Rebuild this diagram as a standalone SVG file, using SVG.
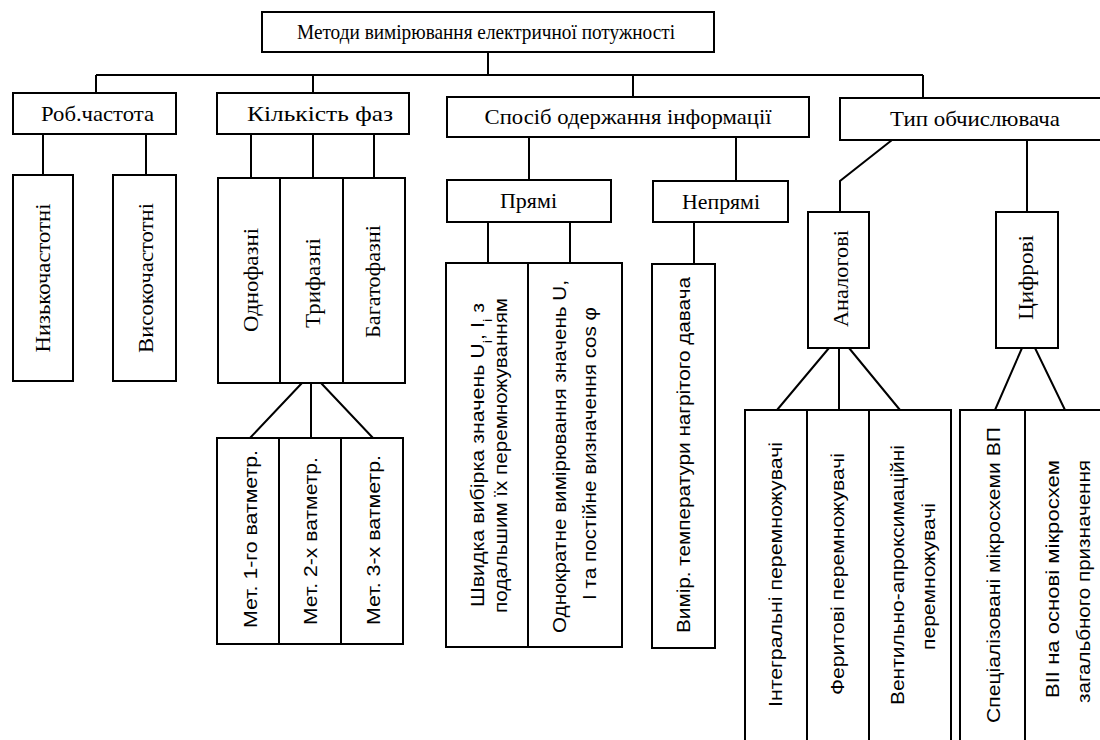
<svg xmlns="http://www.w3.org/2000/svg" width="1100" height="740" viewBox="0 0 1100 740">
<style>
.bx{fill:#fff;stroke:#000;stroke-width:2}
.ln{fill:none;stroke:#000;stroke-width:2}
.s{font-family:"Liberation Serif","Times New Roman",serif;font-size:21px;fill:#000;text-anchor:middle}
.v{font-family:"Liberation Serif","Times New Roman",serif;font-size:22px;fill:#000;text-anchor:middle}
.a{font-family:"Liberation Sans",Arial,sans-serif;font-size:19px;fill:#000;text-anchor:middle}
</style>
<rect width="1100" height="740" fill="#fff"/>
<g id="connectors">
<path class="ln" d="M488 52V75M96 75H923M96 75V93M313 75V93M633 75V97M923 75V98"/>
<path class="ln" d="M43 134V175M146 134V175M251 134V178M313 134V178M374 134V178"/>
<path class="ln" d="M302 383L250 438M311 383V438M321 383L373 438"/>
<path class="ln" d="M529 137V180M736 137V181M488 222V263M570 222V263M694 222V264"/>
<path class="ln" d="M892 140L840 181V212M1027 140V212"/>
<path class="ln" d="M829 348L777 410M839 348V410M849 348L900 410M1022 348L995 410M1035 348L1065 410"/>
</g>
<g id="n-root"><rect class="bx" x="262" y="12" width="452" height="40"/><text class="s" x="486" y="32" dy="0.35em" textLength="378" lengthAdjust="spacingAndGlyphs">Методи вимірювання електричної потужності</text></g>
<g id="n-freq"><rect class="bx" x="13" y="93" width="163" height="41"/><text class="s" x="97.5" y="113.5" dy="0.35em" textLength="113" lengthAdjust="spacingAndGlyphs">Роб.частота</text></g>
<g id="n-phases"><rect class="bx" x="217" y="93" width="192" height="41"/><text class="s" x="320" y="113.5" dy="0.35em" textLength="146" lengthAdjust="spacingAndGlyphs">Кількість фаз</text></g>
<g id="n-info"><rect class="bx" x="447" y="97" width="362" height="40"/><text class="s" x="628" y="117" dy="0.35em" textLength="287" lengthAdjust="spacingAndGlyphs">Спосіб одержання інформації</text></g>
<g id="n-type"><rect class="bx" x="840" y="98" width="275" height="42"/><text class="s" x="975" y="119" dy="0.35em" textLength="170" lengthAdjust="spacingAndGlyphs">Тип обчислювача</text></g>
<g id="n-low"><rect class="bx" x="13" y="175" width="60" height="206"/><text class="v" transform="translate(42,278) rotate(-90)" dy="0.35em" textLength="149" lengthAdjust="spacingAndGlyphs">Низькочастотні</text></g>
<g id="n-high"><rect class="bx" x="113" y="175" width="63" height="206"/><text class="v" transform="translate(145,278) rotate(-90)" dy="0.35em" textLength="150" lengthAdjust="spacingAndGlyphs">Високочастотні</text></g>
<g id="n-one"><rect class="bx" x="218" y="178" width="62" height="205"/><text class="v" transform="translate(250,280) rotate(-90)" dy="0.35em" textLength="104" lengthAdjust="spacingAndGlyphs">Однофазні</text></g>
<g id="n-three"><rect class="bx" x="280" y="178" width="63" height="205"/><text class="v" transform="translate(312,283) rotate(-90)" dy="0.35em" textLength="90" lengthAdjust="spacingAndGlyphs">Трифазні</text></g>
<g id="n-multi"><rect class="bx" x="343" y="178" width="62" height="205"/><text class="v" transform="translate(372,281.5) rotate(-90)" dy="0.35em" textLength="113" lengthAdjust="spacingAndGlyphs">Багатофазні</text></g>
<g id="n-m1"><rect class="bx" x="217" y="438" width="62" height="206"/><text class="a" transform="translate(250,539) rotate(-90)" dy="0.35em" textLength="178" lengthAdjust="spacingAndGlyphs">Мет. 1-го ватметр.</text></g>
<g id="n-m2"><rect class="bx" x="279" y="438" width="62" height="206"/><text class="a" transform="translate(310,541) rotate(-90)" dy="0.35em" textLength="168" lengthAdjust="spacingAndGlyphs">Мет. 2-х ватметр.</text></g>
<g id="n-m3"><rect class="bx" x="341" y="438" width="62" height="206"/><text class="a" transform="translate(373,540) rotate(-90)" dy="0.35em" textLength="170" lengthAdjust="spacingAndGlyphs">Мет. 3-х ватметр.</text></g>
<g id="n-direct"><rect class="bx" x="447" y="180" width="164" height="42"/><text class="s" x="528.5" y="201" dy="0.35em" textLength="57" lengthAdjust="spacingAndGlyphs">Прямі</text></g>
<g id="n-indirect"><rect class="bx" x="653" y="181" width="135" height="41"/><text class="s" x="721" y="201.5" dy="0.35em" textLength="78" lengthAdjust="spacingAndGlyphs">Непрямі</text></g>
<g id="n-fast"><rect class="bx" x="446" y="263" width="82" height="384"/>
<text class="a" transform="translate(477,455) rotate(-90)" dy="0.35em" textLength="304" lengthAdjust="spacingAndGlyphs">Швидка вибірка значень U<tspan font-size="13" baseline-shift="sub">i</tspan>, I<tspan font-size="13" baseline-shift="sub">i</tspan> з</text>
<text class="a" transform="translate(500,455.5) rotate(-90)" dy="0.35em" textLength="315" lengthAdjust="spacingAndGlyphs">подальшим їх перемножуванням</text></g>
<g id="n-single"><rect class="bx" x="528" y="263" width="94" height="384"/>
<text class="a" transform="translate(559,456.5) rotate(-90)" dy="0.35em" textLength="353" lengthAdjust="spacingAndGlyphs">Однократне вимірювання значень U,</text>
<text class="a" transform="translate(589,453.5) rotate(-90)" dy="0.35em" textLength="293" lengthAdjust="spacingAndGlyphs">І та постійне визначення cos φ</text></g>
<g id="n-temp"><rect class="bx" x="652" y="264" width="63" height="384"/><text class="a" transform="translate(683,455) rotate(-90)" dy="0.35em" textLength="356" lengthAdjust="spacingAndGlyphs">Вимір. температури нагрітого давача</text></g>
<g id="n-analog"><rect class="bx" x="808" y="212" width="61" height="136"/><text class="v" transform="translate(840,278.5) rotate(-90)" dy="0.35em" textLength="97" lengthAdjust="spacingAndGlyphs">Аналогові</text></g>
<g id="n-digital"><rect class="bx" x="996" y="212" width="62" height="136"/><text class="v" transform="translate(1025,277.5) rotate(-90)" dy="0.35em" textLength="85" lengthAdjust="spacingAndGlyphs">Цифрові</text></g>
<g id="n-integ"><rect class="bx" x="745" y="410" width="62" height="350"/><text class="a" transform="translate(775,574.5) rotate(-90)" dy="0.35em" textLength="265" lengthAdjust="spacingAndGlyphs">Інтегральні перемножувачі</text></g>
<g id="n-ferr"><rect class="bx" x="807" y="410" width="62" height="350"/><text class="a" transform="translate(837,574) rotate(-90)" dy="0.35em" textLength="242" lengthAdjust="spacingAndGlyphs">Феритові перемножувачі</text></g>
<g id="n-vent"><rect class="bx" x="869" y="410" width="82" height="350"/>
<text class="a" transform="translate(897,575) rotate(-90)" dy="0.35em" textLength="260" lengthAdjust="spacingAndGlyphs">Вентильно-апроксимаційні</text>
<text class="a" transform="translate(928,576.5) rotate(-90)" dy="0.35em" textLength="147" lengthAdjust="spacingAndGlyphs">перемножувачі</text></g>
<g id="n-spec"><rect class="bx" x="960" y="410" width="65" height="350"/><text class="a" transform="translate(993,575) rotate(-90)" dy="0.35em" textLength="296" lengthAdjust="spacingAndGlyphs">Спеціалізовані мікросхеми ВП</text></g>
<g id="n-gen"><rect class="bx" x="1025" y="410" width="90" height="350"/>
<text class="a" transform="translate(1052,579) rotate(-90)" dy="0.35em" textLength="238" lengthAdjust="spacingAndGlyphs">ВІІ на основі мікросхем</text>
<text class="a" transform="translate(1083,581.5) rotate(-90)" dy="0.35em" textLength="243" lengthAdjust="spacingAndGlyphs">загальбного призначення</text></g>
</svg>
